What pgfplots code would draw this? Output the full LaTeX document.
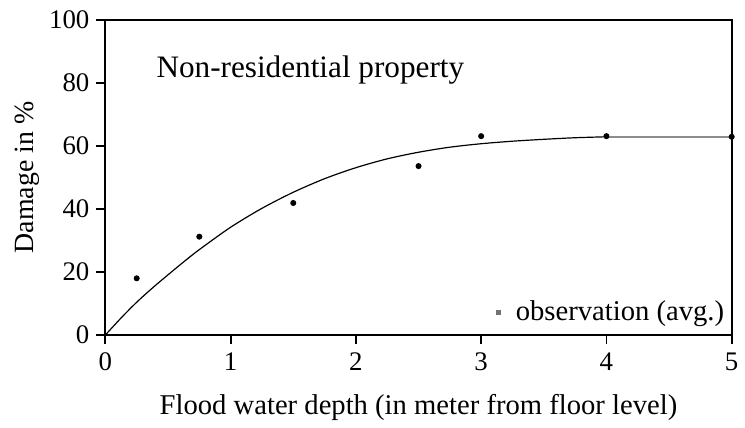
\documentclass[border=0pt]{standalone}
\usepackage{pgfplots}
\pgfplotsset{compat=1.18}
\usepackage{fontspec}
\setmainfont{Liberation Serif}

% averaged observations of damage against flood depth
\pgfplotstableread{
x    y
0.25 18.0
0.75 31.2
1.5  41.9
2.5  53.6
3.0  63.1
4.0  63.1
5.0  62.9
}\obs

% fitted damage curve
\pgfplotstableread{
x     y
0     0
0.125 5.4
0.25  10.4
0.375 14.9
0.5   19.1
0.625 23.2
0.75  27.1
1.0   34.2
1.25  40.2
1.5   45.3
1.75  49.6
2.0   53.1
2.25  55.9
2.5   58.0
2.75  59.6
3.0   60.7
3.25  61.5
3.5   62.1
3.75  62.6
4.0   62.9
}\fit

\pgfplotstableread{
x   y
4.0 62.9
5.0 62.9
}\fittail

\begin{document}
\begin{tikzpicture}
\begin{axis}[
  scale only axis,
  width=315pt, height=158.5pt,
  xmin=0, xmax=5, ymin=0, ymax=100,
  xtick={0,1,2,3,4,5},
  ytick={0,20,40,60,80,100},
  tick align=outside,
  xtick pos=left, ytick pos=left,
  major tick length=4.5pt,
  axis line style={line width=1pt},
  every tick/.style={black, line width=0.9pt},
  /pgf/number format/assume math mode=true,
  tick label style={font=\fontsize{13.5}{16}\selectfont},
  xticklabel style={yshift=-1pt},
  xlabel={Flood water depth (in meter from floor level)},
  ylabel={Damage in \%},
  xlabel style={font=\fontsize{14.4}{17}\selectfont, yshift=-5pt},
  ylabel style={font=\fontsize{14}{16}\selectfont, yshift=-2pt},
  legend style={draw=none, fill=none, at={(0.995,0.022)}, anchor=south east,
    font=\fontsize{14.4}{17}\selectfont, inner sep=0pt},
  legend image code/.code={%
    \fill[black!55, draw=none] (0pt,-1.3pt) rectangle (2.6pt,1.3pt);
    \path[draw=none, fill=none] (0pt,0pt) rectangle (8pt,0pt);},
  legend cell align=left,
  clip=false,
]
\addplot[black, line width=0.6pt, smooth, forget plot] table[x=x,y=y] {\fit};
\addplot[black!45, line width=0.8pt, forget plot] table[x=x,y=y] {\fittail};
\addplot[only marks, mark=*, mark size=1.3pt, black, forget plot] table[x=x,y=y] {\obs};
\addlegendimage{black!55}
\addlegendentry{observation (avg.)}
\node[anchor=base west, inner sep=0pt, font=\fontsize{15.7}{18}\selectfont] at (axis cs:0.405,81.7) {Non-residential property};
\end{axis}
\path (current axis.south west) ++(-53pt,-44.5pt) (current axis.north east) ++(4.5pt,10pt);
\end{tikzpicture}
\end{document}
